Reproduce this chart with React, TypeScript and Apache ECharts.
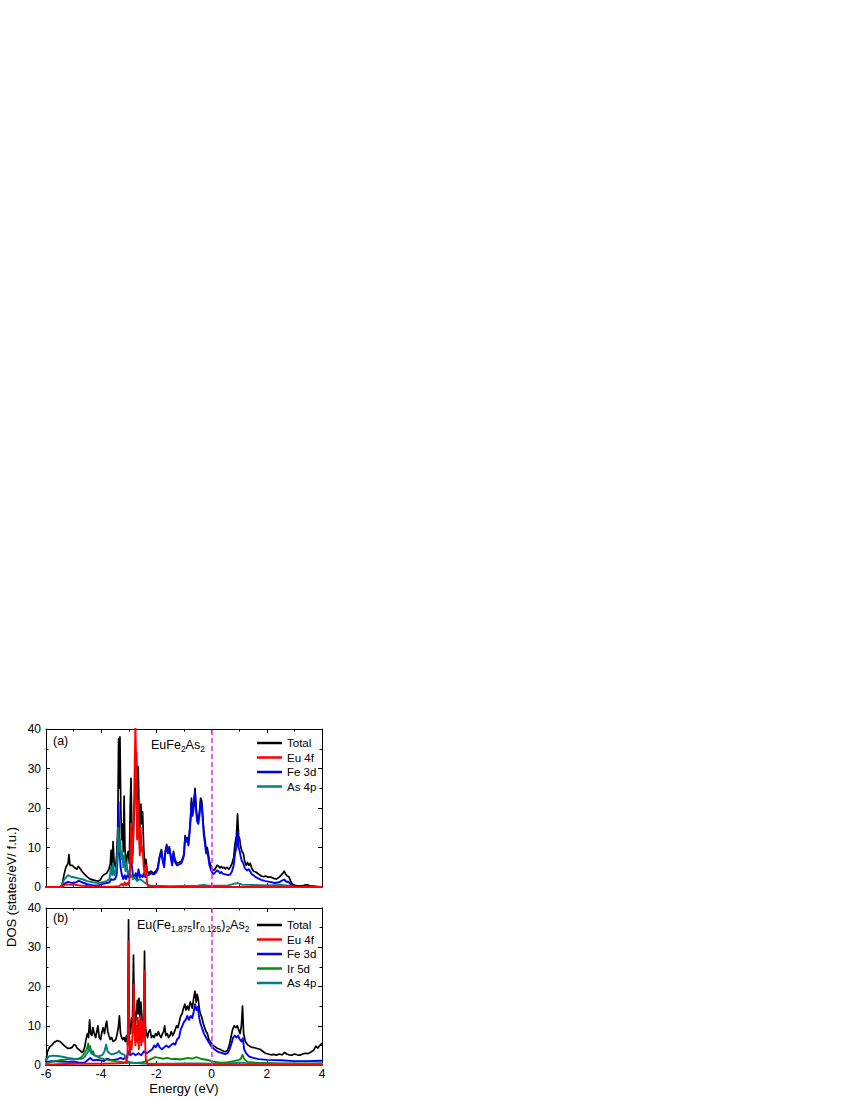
import React, { useEffect, useRef } from "react";
import * as echarts from "echarts";

// Energy (eV) vs DOS (states/eV/f.u.) — panel (a) EuFe2As2
const aTotal: number[][] = [
[-6,0],[-5.5,0],[-5.42,0.5],[-5.35,3],[-5.28,5],[-5.2,6],[-5.17,8.2],[-5.13,5.5],[-5.05,5.5],[-4.95,4.8],[-4.88,4.5],[-4.83,5.2],[-4.78,4.8],[-4.7,4],[-4.6,3.2],[-4.5,2.5],[-4.4,2],[-4.3,1.8],[-4.2,1.6],[-4.1,1.5],[-4.03,1.8],[-3.95,2.8],[-3.88,3.2],[-3.8,3.5],[-3.72,4.5],[-3.67,6],[-3.64,9.3],[-3.61,5],[-3.57,11.5],[-3.53,6],[-3.48,5],[-3.44,8],[-3.4,15],[-3.37,37.5],[-3.35,25],[-3.32,38],[-3.29,20],[-3.26,12],[-3.23,16],[-3.2,9],[-3.17,23],[-3.14,10],[-3.1,5],[-3.06,8],[-3.02,9],[-2.98,6],[-2.95,20],[-2.92,27.5],[-2.89,15],[-2.86,8],[-2.82,16],[-2.78,22],[-2.75,30],[-2.72,34],[-2.69,22],[-2.66,30.5],[-2.63,20],[-2.6,15],[-2.56,21],[-2.53,16],[-2.5,19],[-2.46,10],[-2.42,5],[-2.38,7],[-2.33,4],[-2.28,3.5],[-2.2,4],[-2.1,3.5],[-2.02,4],[-1.95,5],[-1.88,8],[-1.82,9.5],[-1.77,7],[-1.72,5.5],[-1.68,9],[-1.63,10.8],[-1.58,9],[-1.53,10.2],[-1.48,8],[-1.43,6],[-1.38,9],[-1.33,7],[-1.26,6],[-1.18,6.2],[-1.1,6.5],[-1.04,7.5],[-1.0,8.5],[-0.96,13],[-0.92,12],[-0.88,12.5],[-0.84,11],[-0.8,14],[-0.76,18],[-0.73,22.5],[-0.69,19],[-0.65,21],[-0.6,25],[-0.56,20],[-0.52,17.5],[-0.48,17],[-0.44,19],[-0.4,22.5],[-0.36,22],[-0.32,18],[-0.28,14],[-0.24,12],[-0.2,9.5],[-0.16,10],[-0.12,8.5],[-0.08,6.5],[-0.03,5.5],[0.02,4.5],[0.08,4.2],[0.13,4.6],[0.2,5.5],[0.25,5.3],[0.3,4.8],[0.35,5.2],[0.4,4.8],[0.45,5],[0.5,4.6],[0.56,5],[0.62,4.5],[0.68,5],[0.74,6],[0.8,7.5],[0.85,11],[0.9,13],[0.94,18.5],[0.98,13],[1.02,12],[1.06,10],[1.1,9],[1.15,8.5],[1.2,6.5],[1.25,5.5],[1.3,6.2],[1.35,5.5],[1.4,6],[1.45,4.8],[1.52,4],[1.6,3.8],[1.7,3.3],[1.8,2.8],[1.88,2.6],[1.95,2.8],[2.05,2.5],[2.15,2.5],[2.25,2.2],[2.35,2],[2.45,2.5],[2.52,3],[2.58,3.5],[2.63,4],[2.68,3.3],[2.74,2.8],[2.8,2.6],[2.86,1.5],[2.92,0.8],[3.0,0.4],[3.1,0.3],[3.3,0.3],[3.45,0.6],[3.55,0.3],[3.7,0.2],[4,0]
];
const aEu4f: number[][] = [
[-6,0],[-5.4,0],[-5.3,0.6],[-5.0,0.6],[-4.7,0.3],[-4.4,0.2],[-4.0,0.1],[-3.6,0.1],[-3.35,0.2],[-3.25,0.8],[-3.2,0.3],[-3.15,1.2],[-3.1,0.4],[-3.05,1],[-3.0,0.5],[-2.96,3],[-2.92,16],[-2.88,6],[-2.84,12],[-2.8,25],[-2.76,42],[-2.73,30],[-2.7,12],[-2.67,22],[-2.64,14],[-2.6,8],[-2.57,15],[-2.53,9],[-2.5,10],[-2.46,5],[-2.42,3],[-2.38,5.5],[-2.34,1],[-2.3,0.2],[-2.0,0],[4,0]
];
const aFe3d: number[][] = [
[-6,0],[-5.45,0],[-5.35,0.8],[-5.2,1.3],[-5.05,1],[-4.9,1.2],[-4.82,1.6],[-4.7,1.2],[-4.5,0.7],[-4.3,0.4],[-4.1,0.4],[-3.95,0.8],[-3.8,1.0],[-3.7,1.2],[-3.64,2],[-3.57,1.8],[-3.5,2],[-3.44,3],[-3.4,8],[-3.37,21.5],[-3.34,10],[-3.3,5],[-3.25,3],[-3.2,2],[-3.15,3],[-3.1,2],[-3.05,3],[-3.0,2.5],[-2.95,5],[-2.9,6],[-2.85,3],[-2.8,2.5],[-2.75,3.5],[-2.7,2],[-2.65,4.5],[-2.6,2.5],[-2.55,3],[-2.5,2.5],[-2.45,3.5],[-2.4,2.5],[-2.33,3],[-2.28,3],[-2.2,3.5],[-2.1,3.2],[-2.02,3.6],[-1.95,4.5],[-1.88,7.5],[-1.82,9],[-1.77,6.5],[-1.72,5],[-1.68,8.5],[-1.63,10.2],[-1.58,8.5],[-1.53,9.7],[-1.48,7.5],[-1.43,5.5],[-1.38,8.5],[-1.33,6.5],[-1.26,5.5],[-1.18,5.7],[-1.1,6],[-1.04,7],[-1.0,8],[-0.96,12.5],[-0.92,11.5],[-0.88,12],[-0.84,10.5],[-0.8,13.5],[-0.76,17],[-0.73,21.5],[-0.69,18],[-0.65,20],[-0.6,24],[-0.56,19],[-0.52,16.5],[-0.48,16],[-0.44,18],[-0.4,21.5],[-0.36,21],[-0.32,17],[-0.28,13],[-0.24,11],[-0.2,8.5],[-0.16,9],[-0.12,7.5],[-0.08,5.5],[-0.03,4.5],[0.02,3.6],[0.08,3.3],[0.13,3.7],[0.2,4.2],[0.25,4],[0.3,3.5],[0.35,3.8],[0.4,3.4],[0.5,3.2],[0.6,3],[0.68,3.2],[0.74,4],[0.8,5.5],[0.85,8.5],[0.9,10],[0.94,14],[0.98,10],[1.02,9],[1.06,7.5],[1.1,6.5],[1.15,6],[1.2,4.8],[1.28,4.2],[1.35,4.5],[1.45,3.3],[1.55,2.8],[1.65,2.3],[1.8,1.8],[1.95,1.5],[2.1,1.3],[2.3,1],[2.45,1.2],[2.55,1.6],[2.63,1.9],[2.7,1.4],[2.8,1.2],[2.88,0.5],[3.0,0.1],[3.3,0],[4,0]
];
const aAs4p: number[][] = [
[-6,0],[-5.45,0],[-5.35,1.8],[-5.2,3],[-5.1,2.6],[-4.95,2.4],[-4.82,2.2],[-4.65,1.9],[-4.5,1.5],[-4.3,1.2],[-4.1,1],[-3.95,1.2],[-3.8,1.5],[-3.7,2],[-3.64,5],[-3.6,3],[-3.57,6],[-3.52,3],[-3.47,4],[-3.42,7],[-3.38,15],[-3.35,9],[-3.31,12],[-3.28,7],[-3.24,9],[-3.2,5],[-3.16,8],[-3.12,4],[-3.08,6],[-3.04,3.5],[-3.0,4],[-2.95,2.5],[-2.9,3],[-2.85,2],[-2.8,2.5],[-2.7,1.5],[-2.6,2],[-2.5,1.5],[-2.4,1],[-2.3,0.5],[-2.2,0.3],[-1.5,0.2],[-0.5,0.3],[-0.3,0.5],[-0.1,0.3],[0.2,0.3],[0.6,0.4],[0.8,0.8],[0.95,1],[1.1,0.6],[1.5,0.5],[2.0,0.4],[2.5,0.5],[2.8,0.3],[3.0,0.1],[4,0]
];

// panel (b) Eu(Fe1.875Ir0.125)2As2
const bTotal: number[][] = [
[-6,1],[-5.95,3.3],[-5.88,4.5],[-5.8,5],[-5.7,5.8],[-5.6,6.2],[-5.5,6],[-5.42,5.5],[-5.35,5],[-5.28,4.6],[-5.2,4.2],[-5.12,4.3],[-5.05,4.5],[-4.98,5.2],[-4.93,5],[-4.86,4.2],[-4.78,3.8],[-4.7,3.2],[-4.65,3.5],[-4.6,4.5],[-4.55,6.5],[-4.5,8],[-4.46,7],[-4.42,11.5],[-4.38,8],[-4.34,7.5],[-4.3,9.5],[-4.25,8],[-4.2,7],[-4.16,8.5],[-4.12,10],[-4.07,7],[-4.02,6.5],[-3.97,8.5],[-3.93,9.5],[-3.88,8],[-3.84,10],[-3.8,11.2],[-3.76,8.5],[-3.72,7.5],[-3.67,6.5],[-3.62,7],[-3.57,6],[-3.52,6.2],[-3.47,6.5],[-3.42,8],[-3.38,9.5],[-3.34,12.5],[-3.3,8],[-3.26,7],[-3.22,6.5],[-3.17,7],[-3.13,6],[-3.08,7.5],[-3.04,5],[-3.01,37],[-2.98,9],[-2.94,8],[-2.9,12],[-2.87,10],[-2.83,28],[-2.8,14],[-2.76,10],[-2.72,14],[-2.69,16.5],[-2.66,13],[-2.63,17],[-2.59,12],[-2.56,16],[-2.52,11],[-2.49,9.5],[-2.46,12],[-2.43,29],[-2.4,10],[-2.36,8],[-2.32,7],[-2.28,8.5],[-2.23,9],[-2.18,7],[-2.13,7.5],[-2.08,7],[-2.03,8],[-1.98,7.5],[-1.93,8.5],[-1.88,7.5],[-1.83,7],[-1.78,8],[-1.74,8.5],[-1.7,10],[-1.66,7.5],[-1.61,8],[-1.56,7],[-1.51,7.5],[-1.46,8.5],[-1.41,7.5],[-1.37,8],[-1.32,9],[-1.27,10],[-1.22,9.5],[-1.17,11],[-1.12,12.5],[-1.07,13],[-1.02,14.5],[-0.97,15.5],[-0.93,14],[-0.88,15],[-0.83,14],[-0.78,16],[-0.74,15.5],[-0.7,14.5],[-0.65,17],[-0.6,18.8],[-0.56,16],[-0.52,18],[-0.48,16.5],[-0.44,14],[-0.4,13],[-0.35,12],[-0.3,10.5],[-0.25,9.5],[-0.2,8.5],[-0.15,8],[-0.1,6.5],[-0.05,6],[0,5.5],[0.05,5],[0.1,4.8],[0.15,4.5],[0.22,4.2],[0.3,4],[0.38,3.7],[0.45,3.5],[0.52,3.4],[0.58,3.8],[0.64,5],[0.7,7],[0.76,9],[0.82,10],[0.88,9.5],[0.93,10],[0.98,9],[1.03,8],[1.08,10],[1.12,15],[1.16,8],[1.22,6],[1.3,5.2],[1.38,4.8],[1.46,4.5],[1.55,4.4],[1.65,4.2],[1.75,4],[1.85,3.5],[1.95,3],[2.05,2.8],[2.15,2.6],[2.25,2.7],[2.35,2.5],[2.45,2.8],[2.55,2.6],[2.65,3.2],[2.72,2.8],[2.8,2.6],[2.9,2.5],[3.0,2.8],[3.1,2.6],[3.2,2.5],[3.3,2.8],[3.4,3],[3.5,2.9],[3.6,3.3],[3.7,3.8],[3.78,4.8],[3.85,4.3],[3.92,5],[4,5.5]
];
const bEu4f: number[][] = [
[-6,0],[-5.6,0.2],[-5.0,0.3],[-4.5,0.3],[-4.0,0.3],[-3.5,0.4],[-3.2,0.5],[-3.1,0.8],[-3.05,2],[-3.03,10],[-3.01,31.5],[-2.99,8],[-2.96,3],[-2.93,6],[-2.9,4],[-2.87,7],[-2.84,12],[-2.82,20.5],[-2.79,8],[-2.76,5],[-2.73,10],[-2.7,6],[-2.67,12],[-2.64,4],[-2.61,9],[-2.58,12.5],[-2.55,5],[-2.52,11],[-2.49,6],[-2.46,10],[-2.43,24],[-2.41,6],[-2.38,1],[-2.3,0.2],[-2,0],[4,0]
];
const bFe3d: number[][] = [
[-6,0.8],[-5.8,1],[-5.5,0.9],[-5.2,0.8],[-5.0,0.9],[-4.8,0.6],[-4.6,0.6],[-4.5,1.2],[-4.4,1.8],[-4.3,1.2],[-4.1,1.3],[-3.9,1],[-3.8,1.6],[-3.6,1.2],[-3.4,1.5],[-3.3,1.8],[-3.2,1.5],[-3.1,2],[-3.05,2.5],[-3.0,3.5],[-2.95,2.5],[-2.85,3],[-2.75,2.5],[-2.65,3],[-2.55,2.5],[-2.45,3.5],[-2.35,3],[-2.25,3.5],[-2.15,4],[-2.08,5],[-2.02,4.5],[-1.95,5.5],[-1.88,4.5],[-1.8,4],[-1.72,4.5],[-1.64,5],[-1.56,4.5],[-1.48,5],[-1.4,5.5],[-1.32,5.2],[-1.25,6.5],[-1.18,7],[-1.12,9],[-1.06,10],[-1.0,11],[-0.94,11.5],[-0.88,12.5],[-0.82,11.5],[-0.76,12.5],[-0.7,12],[-0.65,13.5],[-0.6,15.5],[-0.55,14],[-0.5,14.8],[-0.45,12],[-0.4,10.5],[-0.35,9.5],[-0.28,8],[-0.2,7],[-0.12,6],[-0.05,5.2],[0.02,4.5],[0.1,4],[0.2,3.5],[0.3,3.2],[0.4,3],[0.5,2.8],[0.58,3],[0.65,4],[0.72,5.5],[0.78,7],[0.84,7.5],[0.9,7],[0.96,7.5],[1.02,6.5],[1.08,6],[1.13,6.8],[1.18,4],[1.25,3],[1.35,2.2],[1.5,1.8],[1.7,1.5],[2.0,1.3],[2.5,1.2],[3.0,1],[3.5,1],[4,1.1]
];
const bIr5d: number[][] = [
[-6,0.3],[-5.8,0.8],[-5.5,1.2],[-5.2,1.5],[-4.9,1.5],[-4.75,1.8],[-4.65,2.5],[-4.58,3.5],[-4.52,4],[-4.47,5.5],[-4.43,4],[-4.4,4.8],[-4.35,3],[-4.3,3.5],[-4.25,2.5],[-4.15,2.2],[-4.05,1.8],[-3.9,1.5],[-3.7,1.2],[-3.5,1],[-3.3,0.8],[-3.1,0.5],[-2.9,0.6],[-2.7,0.5],[-2.5,0.7],[-2.35,1],[-2.2,1.5],[-2.05,2],[-1.9,1.8],[-1.75,1.6],[-1.6,1.8],[-1.45,1.5],[-1.3,1.6],[-1.15,1.4],[-1.0,1.6],[-0.85,1.8],[-0.7,1.6],[-0.55,2],[-0.4,1.6],[-0.25,1.4],[-0.1,1.2],[0.05,0.9],[0.2,0.7],[0.4,0.6],[0.6,0.7],[0.8,1],[0.95,1.2],[1.05,1.5],[1.12,2.6],[1.18,1.5],[1.3,0.8],[1.6,0.6],[2.0,0.5],[2.5,0.4],[3.0,0.4],[3.5,0.3],[4,0.4]
];
const bAs4p: number[][] = [
[-6,1.2],[-5.9,2.2],[-5.75,2.4],[-5.6,2.3],[-5.4,2.1],[-5.2,1.8],[-5.0,1.6],[-4.85,1.5],[-4.7,1.6],[-4.6,2],[-4.52,3],[-4.47,3.5],[-4.43,4.3],[-4.38,3.2],[-4.32,2.8],[-4.25,2.5],[-4.15,2.2],[-4.05,2.3],[-3.95,2.6],[-3.88,3.5],[-3.82,5.2],[-3.77,3.5],[-3.7,3],[-3.62,2.7],[-3.55,2.8],[-3.47,3],[-3.4,3.2],[-3.35,3.6],[-3.3,3],[-3.22,2.8],[-3.15,2.5],[-3.1,1.5],[-3.05,0.9],[-2.9,0.6],[-2.7,0.5],[-2.5,0.4],[-2.2,0.3],[-1.5,0.3],[-1.0,0.4],[-0.5,0.4],[0,0.3],[0.5,0.3],[0.9,0.5],[1.1,0.6],[1.4,0.3],[2,0.3],[3,0.3],[4,0.4]
];

const xTicks = { min: -6, max: 4, interval: 2 };
const yTicks = { min: 0, max: 40, interval: 10 };
const legendA = ["Total", "Eu 4f", "Fe 3d", "As 4p"];
const legendB = ["Total", "Eu 4f", "Fe 3d", "Ir 5d", "As 4p"];

const COLORS: Record<string, string> = {
  "Total": "#000000",
  "Eu 4f": "#ff0000",
  "Fe 3d": "#0000ff",
  "Ir 5d": "#0a8a0a",
  "As 4p": "#008080",
};
const FONT = "'Liberation Sans', Arial, sans-serif";

export default function App() {
  const ref = useRef<HTMLDivElement>(null);
  useEffect(() => {
    if (!ref.current) return;
    const chart = echarts.init(ref.current, null, { renderer: "svg" });
    const tick = { show: true, inside: true, length: 4, lineStyle: { color: "#000", width: 1 } };
    const minor = { show: true, splitNumber: 2, length: 2.5, lineStyle: { color: "#000", width: 1 } };
    const axLine = { show: true, onZero: false, lineStyle: { color: "#000", width: 1 } };
    const mkX = (grid: number, pos: string, labels: boolean) => ({
      type: "value", gridIndex: grid, position: pos, ...xTicks,
      axisLine: axLine, axisTick: tick, minorTick: minor, splitLine: { show: false },
      axisLabel: { show: labels, color: "#000", fontSize: 12, fontFamily: FONT, margin: 3 },
    });
    const mkY = (grid: number, pos: string, labels: boolean) => ({
      type: "value", gridIndex: grid, position: pos, ...yTicks,
      axisLine: axLine, axisTick: tick, minorTick: minor, splitLine: { show: false },
      axisLabel: { show: labels, color: "#000", fontSize: 12, fontFamily: FONT, margin: 5 },
    });
    const mkSeries = (name: string, data: number[][], idx: number, extra: any = {}) => ({
      name, type: "line", data, xAxisIndex: idx, yAxisIndex: idx,
      symbol: "none", showSymbol: false, clip: true,
      lineStyle: { color: COLORS[name], width: name === "Total" ? 1.7 : 1.9, join: "round", cap: "round" },
      itemStyle: { color: COLORS[name] },
      ...extra,
    });
    const fermi = {
      markLine: {
        silent: true, symbol: "none", label: { show: false },
        lineStyle: { color: "#e23ce6", type: [5, 3], width: 1.6 },
        data: [{ xAxis: 0 }],
      },
    };
    const rich = {
      m: { fontSize: 12.5, fontFamily: FONT, color: "#000" },
      s: { fontSize: 8.5, fontFamily: FONT, color: "#000", padding: [8, 0, 0, 0] },
    };
    const legendCommon = {
      orient: "vertical", icon: "rect", itemWidth: 25, itemHeight: 2.5, itemGap: 0.5, padding: 0,
      textStyle: { fontSize: 11.5, fontFamily: FONT, color: "#000", lineHeight: 14 },
      selectedMode: false,
    };
    chart.setOption({
      animation: false,
      backgroundColor: "#ffffff",
      grid: [
        { left: 46, top: 729, width: 276, height: 158 },
        { left: 46, top: 908, width: 276, height: 157 },
      ],
      xAxis: [mkX(0, "bottom", false), mkX(0, "top", false), mkX(1, "bottom", true), mkX(1, "top", false)],
      yAxis: [mkY(0, "left", true), mkY(0, "right", false), mkY(1, "left", true), mkY(1, "right", false)],
      legend: [
        { ...legendCommon, data: legendA, left: 257, top: 736 },
        { ...legendCommon, data: legendB, left: 257, top: 918 },
      ],
      series: [
        mkSeries("Total", aTotal, 0, fermi),
        mkSeries("Fe 3d", aFe3d, 0),
        mkSeries("As 4p", aAs4p, 0),
        mkSeries("Eu 4f", aEu4f, 0),
        mkSeries("Total", bTotal, 2, fermi),
        mkSeries("Fe 3d", bFe3d, 2),
        mkSeries("Ir 5d", bIr5d, 2),
        mkSeries("As 4p", bAs4p, 2),
        mkSeries("Eu 4f", bEu4f, 2),
      ],
      graphic: [
        { type: "text", left: 53, top: 734, style: { text: "(a)", fontSize: 12.5, fontFamily: FONT, fill: "#000" } },
        { type: "text", left: 53, top: 911, style: { text: "(b)", fontSize: 12.5, fontFamily: FONT, fill: "#000" } },
        { type: "text", left: 151, top: 738, style: { text: "{m|EuFe}{s|2}{m|As}{s|2}", rich } },
        { type: "text", left: 137, top: 918, style: { text: "{m|Eu(Fe}{s|1.875}{m|Ir}{s|0.125}{m|)}{s|2}{m|As}{s|2}", rich } },
        {
          type: "text", x: 11, y: 887, rotation: Math.PI / 2,
          style: { text: "DOS (states/eV/ f.u.)", fontSize: 13, fontFamily: FONT, fill: "#000", align: "center", verticalAlign: "middle" },
        },
        {
          type: "text", x: 184, y: 1088,
          style: { text: "Energy (eV)", fontSize: 13, fontFamily: FONT, fill: "#000", align: "center", verticalAlign: "middle" },
        },
      ],
    });
    return () => chart.dispose();
  }, []);
  return <div ref={ref} style={{ position: "absolute", left: 0, top: 0, width: 850, height: 1100 }} />;
}
